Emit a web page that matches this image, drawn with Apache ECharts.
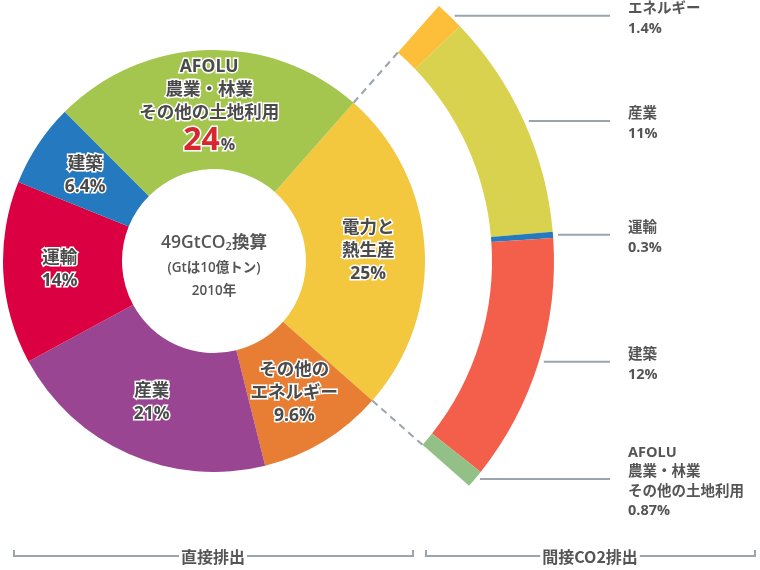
<!DOCTYPE html>
<html>
<head>
<meta charset="utf-8">
<script src="https://cdn.jsdelivr.net/npm/echarts@6/dist/echarts.min.js"></script>
<style>html,body{margin:0;padding:0;background:#fff}#c{width:760px;height:570px}</style>
</head>
<body>
<div id="c"></div>
<script>
// 直接排出 (inner ring), clockwise starting at 電力と熱生産
const directNames = ['電力と\n熱生産', 'その他の\nエネルギー', '産業', '運輸', '建築', 'AFOLU\n農業・林業\nその他の土地利用'];
const directValues = [25, 9.6, 21, 14, 6.4, 24];
const directLabels = ['25%', '9.6%', '21%', '14%', '6.4%', '24%'];
const directColors = ['#F3C73E', '#E77E34', '#9A4592', '#DB0041', '#2479BF', '#A4C64F'];

// 間接CO2排出 (outer ring), breakdown of 電力と熱生産
const indirectNames = ['エネルギー', '産業', '運輸', '建築', 'AFOLU\n農業・林業\nその他の土地利用'];
const indirectValues = [1.4, 11, 0.3, 12, 0.87];
const indirectLabels = ['1.4%', '11%', '0.3%', '12%', '0.87%'];
const indirectColors = ['#FDBE3A', '#D9D24F', '#2479BF', '#F35F4B', '#93C087'];

const groupLabels = ['直接排出', '間接CO2排出'];
const centerLines = ['49GtCO{s|2}換算', '(Gtは10億トン)', '2010年'];

// layout
const CX = 214, CY = 261;
const START = 41.4; // degrees clockwise from 12 o'clock where 電力と熱生産 begins
const totalDirect = directValues.reduce((a, b) => a + b, 0);
const elecSpan = 360 * directValues[0] / totalDirect;
const pieStart = 90 - START;

const FONT = '"Open Sans", "Noto Sans CJK JP", sans-serif';
const chart = echarts.init(document.getElementById('c'));

const innerData = directValues.map((v, i) => ({
  value: v, name: directNames[i], itemStyle: { color: directColors[i] }
}));
const outerData = indirectValues.map((v, i) => ({
  value: v, name: indirectNames[i], itemStyle: { color: indirectColors[i] }
}));

const dashStyle = { color: '#9AA5AD', width: 2, type: [7, 5] };
const txtColor = '#555';
const lblColor = '#4A4A4A';

chart.setOption({
  animation: false,
  polar: { center: [CX, CY], radius: 340 },
  angleAxis: { type: 'value', min: 0, max: 360, startAngle: 90, clockwise: true, show: false },
  radiusAxis: { type: 'value', min: 0, max: 340, show: false },
  graphic: [
    {
      type: 'text', z: 10, position: [CX, CY - 18],
      style: {
        text: centerLines[0], align: 'center', verticalAlign: 'middle',
        font: '600 17.5px ' + FONT, fill: txtColor,
        rich: { s: { fontSize: 11, fontFamily: FONT, fontWeight: 600, fill: txtColor, padding: [7, 0, 0, 0] } }
      }
    },
    {
      type: 'text', z: 10, position: [CX, CY + 7],
      style: { text: centerLines[1], align: 'center', verticalAlign: 'middle', font: '600 13.5px ' + FONT, fill: txtColor }
    },
    {
      type: 'text', z: 10, position: [CX, CY + 30],
      style: { text: centerLines[2], align: 'center', verticalAlign: 'middle', font: '600 13.5px ' + FONT, fill: txtColor }
    },
    {
      type: 'polyline', shape: { points: [[14, 550], [14, 556], [413, 556], [413, 550]] },
      style: { stroke: '#9AA5AD', lineWidth: 2, fill: null }
    },
    {
      type: 'polyline', shape: { points: [[426, 550], [426, 556], [755, 556], [755, 550]] },
      style: { stroke: '#9AA5AD', lineWidth: 2, fill: null }
    },
    {
      type: 'text', position: [213, 557], z: 5,
      style: { text: groupLabels[0], align: 'center', verticalAlign: 'middle', font: '600 16px "Noto Sans CJK JP", sans-serif', fill: txtColor, backgroundColor: '#fff', padding: [0, 2] }
    },
    {
      type: 'text', position: [590, 557], z: 5,
      style: { text: groupLabels[1], align: 'center', verticalAlign: 'middle', font: '600 16px "Noto Sans CJK JP", sans-serif', fill: txtColor, backgroundColor: '#fff', padding: [0, 2] }
    }
  ],
  series: [
    {
      type: 'pie', center: [CX, CY], radius: [92, 211], startAngle: pieStart, clockwise: true,
      silent: true, data: innerData,
      label: {
        position: 'inside', fontFamily: FONT, fontWeight: 'bold', fontSize: 17.5, lineHeight: 23,
        color: lblColor, textBorderColor: '#fff', textBorderWidth: 3,
        formatter: p => {
          const i = p.dataIndex;
          if (i === 5) {
            return directNames[i].split('\n').map(s => '{n|' + s + '}').join('\n') + '\n{big|' + directLabels[i].replace('%', '') + '}{pct|%}';
          }
          return directNames[i].split('\n').map(s => '{n|' + s + '}').join('\n') + '\n{n|' + directLabels[i] + '}';
        },
        rich: {
          n: { fontFamily: FONT, fontWeight: 'bold', fontSize: 17.5, lineHeight: 23, color: lblColor, textBorderColor: '#fff', textBorderWidth: 3 },
          big: { fontFamily: FONT, fontWeight: 'bold', fontSize: 32, lineHeight: 34, color: '#D7262E', textBorderColor: '#fff', textBorderWidth: 3 },
          pct: { fontFamily: FONT, fontWeight: 'bold', fontSize: 16, lineHeight: 34, color: lblColor, textBorderColor: '#fff', textBorderWidth: 3, padding: [8, 0, 0, 1] }
        }
      },
      labelLine: { show: false }
    },
    {
      type: 'pie', center: [CX, CY], radius: [278, 340], startAngle: pieStart, endAngle: pieStart - elecSpan, clockwise: true,
      silent: true, data: outerData,
      label: {
        position: 'outside', fontFamily: FONT, fontWeight: 'bold', fontSize: 14.5, lineHeight: 19.5, color: txtColor, align: 'left',
        formatter: p => indirectNames[p.dataIndex] + '\n' + indirectLabels[p.dataIndex]
      },
      labelLine: { show: true, length: 5, length2: 40, lineStyle: { color: '#9AA5AD', width: 2 } },
      labelLayout: p => {
        if (!p.labelLinePoints) return {};
        const s = p.labelLinePoints[0];
        return {
          x: 628, y: s[1] + 3, align: 'left', verticalAlign: 'middle',
          labelLinePoints: [[s[0] + 5, s[1]], [610, s[1]]]
        };
      }
    },
    {
      type: 'line', coordinateSystem: 'polar', silent: true, symbol: 'none',
      lineStyle: dashStyle, data: [[211, START], [278, START]]
    },
    {
      type: 'line', coordinateSystem: 'polar', silent: true, symbol: 'none',
      lineStyle: dashStyle, data: [[211, START + elecSpan], [278, START + elecSpan]]
    }
  ]
});
</script>
</body>
</html>
